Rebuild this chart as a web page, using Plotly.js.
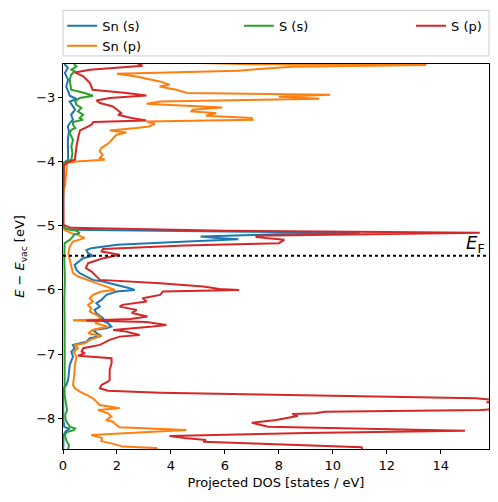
<!DOCTYPE html>
<html>
<head>
<meta charset="utf-8">
<script src="https://cdn.plot.ly/plotly-3.0.1.min.js"></script>
<style>html,body{margin:0;padding:0;background:#fff;}#chart{width:498px;height:502px;}</style>
</head>
<body>
<div id="chart"></div>
<script>
// ---- data (energy in eV relative to vacuum, projected DOS in states/eV) ----
const seriesNames = ["Sn (s)", "Sn (p)", "S (s)", "S (p)"];
const seriesColors = ["#1f77b4", "#ff7f0e", "#2ca02c", "#d62728"];
const fermiLevel = -5.47;
const fermiLabel = "<i>E</i><sub>F</sub>";
const xTicks = [0, 2, 4, 6, 8, 10, 12, 14];
const yTicks = [-8, -7, -6, -5, -4, -3];

const snS_E = [-2.466,-2.497,-2.544,-2.626,-2.731,-2.835,-2.913,-2.980,-3.031,-3.069,-3.146,-3.198,-3.276,-3.354,-3.405,-3.458,-3.536,-3.665,-3.977,-4.023,-4.5,-4.989,-5.036,-5.067,-5.093,-5.114,-5.135,-5.171,-5.19,-5.215,-5.26,-5.30,-5.352,-5.380,-5.430,-5.472,-5.508,-5.561,-5.612,-5.690,-5.741,-5.794,-5.846,-5.872,-5.924,-5.975,-6.002,-6.028,-6.079,-6.157,-6.209,-6.262,-6.313,-6.365,-6.442,-6.469,-6.520,-6.573,-6.600,-6.625,-6.676,-6.718,-6.754,-6.807,-6.858,-6.910,-6.963,-7.040,-7.170,-7.403,-7.481,-7.533,-7.715,-8.03,-8.135,-8.165,-8.20,-8.26,-8.50];
const snS_dos = [0.10,0.07,0.18,0.07,0.19,0.12,0.19,0.25,0.50,0.25,0.37,0.45,0.30,0.37,0.25,0.18,0.22,0.18,0.19,0.03,0.01,0.0,0.05,0.3,6.0,11.0,8.0,5.1,5.6,6.5,4.0,2.0,1.05,0.87,0.93,1.11,0.74,0.56,0.43,0.50,0.62,0.87,1.11,1.48,2.04,2.47,2.66,1.98,1.61,1.42,1.24,1.36,1.17,1.24,1.48,1.36,1.67,1.79,1.6,1.11,1.25,1.42,0.99,0.87,0.37,0.43,0.31,0.37,0.25,0.19,0.12,0.03,0.01,0.01,0.05,0.25,0.10,0.02,0.01];

const snP_E = [-2.47,-2.49,-2.500,-2.53,-2.56,-2.59,-2.637,-2.679,-2.757,-2.808,-2.835,-2.886,-2.938,-2.964,-2.995,-3.026,-3.069,-3.104,-3.120,-3.162,-3.198,-3.224,-3.249,-3.291,-3.327,-3.354,-3.380,-3.416,-3.458,-3.483,-3.520,-3.551,-3.587,-3.665,-3.717,-3.794,-3.847,-3.899,-3.950,-3.977,-4.003,-4.028,-4.21,-4.366,-4.444,-4.6,-5.0,-5.067,-5.118,-5.145,-5.196,-5.249,-5.327,-5.430,-5.534,-5.639,-5.741,-5.794,-5.846,-5.897,-5.950,-6.002,-6.028,-6.079,-6.131,-6.184,-6.235,-6.287,-6.339,-6.391,-6.442,-6.461,-6.474,-6.492,-6.520,-6.573,-6.625,-6.676,-6.718,-6.780,-6.832,-6.858,-6.910,-6.968,-7.040,-7.170,-7.325,-7.481,-7.533,-7.586,-7.637,-7.688,-7.741,-7.793,-7.844,-7.871,-7.922,-7.975,-8.027,-8.053,-8.105,-8.141,-8.184,-8.235,-8.262,-8.308,-8.355,-8.402,-8.441,-8.464,-8.49];
const snP_dos = [5.0,7.0,13.47,8.5,7.4,6.5,2.0,2.72,3.58,3.95,3.58,4.2,4.6,9.9,8.0,9.5,3.6,3.1,3.8,5.9,4.8,4.76,5.68,5.3,7.0,7.03,3.1,3.4,3.2,2.72,1.73,2.35,1.98,1.79,1.70,1.42,1.36,1.47,1.36,1.55,0.5,0.15,0.12,0.08,0.02,0.0,0.0,0.05,0.3,0.55,0.80,0.37,0.25,0.20,0.25,0.31,0.37,0.56,0.87,1.24,1.61,1.92,1.42,1.11,0.99,1.11,0.93,1.05,0.99,1.24,1.42,1.3,0.37,1.3,1.2,1.67,1.10,0.93,1.42,1.0,0.8,0.45,0.55,0.40,0.50,0.44,0.42,0.37,0.44,0.62,0.87,1.11,1.24,1.36,2.10,1.30,1.67,1.79,1.6,1.85,1.98,2.1,4.57,2.5,1.05,1.45,1.42,1.9,2.2,3.46,3.5];

const sS_E = [-2.466,-2.497,-2.523,-2.575,-2.601,-2.653,-2.731,-2.808,-2.886,-2.938,-2.980,-3.016,-3.069,-3.120,-3.171,-3.224,-3.276,-3.327,-3.354,-3.389,-3.431,-3.483,-3.509,-3.561,-3.665,-3.769,-3.872,-3.977,-4.019,-4.1,-5.0,-5.051,-5.083,-5.118,-5.145,-5.171,-5.223,-5.274,-5.534,-5.846,-6.157,-6.469,-6.93,-7.40,-7.637,-7.793,-7.871,-7.95,-8.03,-8.131,-8.159,-8.184,-8.215,-8.26,-8.34,-8.417,-8.50];
const sS_dos = [0.40,0.43,0.50,0.31,0.43,0.30,0.25,0.28,0.30,0.80,1.11,0.62,0.45,0.50,0.68,0.55,0.74,0.62,0.74,0.37,0.37,0.45,0.31,0.25,0.37,0.31,0.35,0.31,0.05,0.01,0.0,0.1,0.5,0.62,0.40,0.37,0.25,0.06,0.05,0.07,0.05,0.06,0.05,0.04,0.06,0.12,0.15,0.08,0.1,0.25,0.45,0.40,0.15,0.07,0.12,0.22,0.18];

const sP_E = [-2.45,-2.466,-2.512,-2.575,-2.617,-2.679,-2.782,-2.886,-2.938,-2.975,-3.016,-3.053,-3.093,-3.146,-3.249,-3.276,-3.327,-3.364,-3.389,-3.431,-3.483,-3.520,-3.614,-3.769,-3.977,-4.019,-4.070,-4.5,-4.989,-5.036,-5.083,-5.105,-5.114,-5.13,-5.16,-5.181,-5.223,-5.274,-5.31,-5.365,-5.405,-5.456,-5.508,-5.586,-5.664,-5.717,-5.768,-5.846,-5.897,-5.950,-5.986,-6.002,-6.028,-6.079,-6.131,-6.184,-6.235,-6.262,-6.313,-6.360,-6.417,-6.453,-6.477,-6.500,-6.547,-6.573,-6.625,-6.651,-6.703,-6.729,-6.780,-6.858,-6.910,-6.963,-6.988,-7.025,-7.065,-7.143,-7.248,-7.403,-7.430,-7.481,-7.533,-7.570,-7.601,-7.637,-7.688,-7.70,-7.72,-7.75,-7.78,-7.82,-7.85,-7.871,-7.897,-7.922,-7.933,-7.964,-8.027,-8.069,-8.131,-8.193,-8.229,-8.276,-8.307,-8.338,-8.364,-8.452,-8.50];
const sP_dos = [2.5,2.7,2.95,1.0,0.44,0.75,1.0,1.1,2.35,3.09,1.73,1.24,1.37,1.85,2.16,2.04,2.53,3.09,1.12,1.06,0.81,0.63,0.57,0.50,0.44,0.14,0.03,0.01,0.02,0.3,6.0,12.0,15.45,12.0,7.17,7.17,8.2,8.0,4.5,1.48,1.43,2.1,1.5,0.93,0.85,1.06,1.18,1.37,3.6,5.2,5.8,6.53,3.7,3.6,2.95,3.1,2.2,2.1,2.73,2.55,3.13,2.5,0.87,3.1,3.83,3.33,1.86,2.35,2.84,2.10,1.73,1.37,0.75,0.69,0.81,0.56,1.80,1.80,1.73,1.73,1.66,1.43,1.37,1.66,3.6,9.0,15.3,15.6,16.2,15.7,16.4,15.9,16.2,15.5,9.7,9.36,8.5,8.7,7.9,7.0,7.6,14.9,9.0,3.95,4.5,5.3,5.2,11.07,11.1];

const energies = [snS_E, snP_E, sS_E, sP_E];
const dosValues = [snS_dos, snP_dos, sS_dos, sP_dos];
// legend column of each series (matplotlib 3-column legend: Sn(s)/Sn(p) | S(s) | S(p))
const legendColumn = ["legend", "legend", "legend2", "legend3"];

const font = "DejaVu Sans, sans-serif";
const traces = seriesNames.map((name, i) => ({
  type: "scatter", mode: "lines", name: name,
  x: dosValues[i], y: energies[i],
  line: {color: seriesColors[i], width: 2},
  legend: legendColumn[i],
  hoverinfo: "skip"
}));

function legendAt(xPos) {
  return {
    orientation: "v", x: xPos, xanchor: "left", y: 1.138, yanchor: "top",
    bgcolor: "rgba(0,0,0,0)", borderwidth: 0, traceorder: "normal",
    font: {family: font, size: 13, color: "#000"}
  };
}

const layout = {
  width: 498, height: 502,
  margin: {l: 63, r: 9, t: 64, b: 53, pad: 0},
  paper_bgcolor: "#fff", plot_bgcolor: "#fff",
  font: {family: font, size: 13, color: "#000"},
  showlegend: true,
  legend: legendAt(-0.002),
  legend2: legendAt(0.413),
  legend3: legendAt(0.817),
  xaxis: {
    range: [0, 15.79], tickvals: xTicks, ticktext: xTicks.map(String),
    ticks: "outside", ticklen: 4, tickwidth: 1, tickcolor: "#000",
    showline: true, mirror: true, linecolor: "#000", linewidth: 1,
    showgrid: false, zeroline: false,
    tickfont: {family: font, size: 13, color: "#000"},
    title: {text: "Projected DOS [states / eV]", font: {family: font, size: 13, color: "#000"}, standoff: 6}
  },
  yaxis: {
    range: [-8.478, -2.486], tickvals: yTicks,
    ticks: "outside", ticklen: 4, tickwidth: 1, tickcolor: "#000",
    showline: true, mirror: true, linecolor: "#000", linewidth: 1,
    showgrid: false, zeroline: false,
    tickfont: {family: font, size: 13, color: "#000"},
    title: {text: "<i>E</i> − <i>E</i><sub>vac</sub> [eV]", font: {family: font, size: 13, color: "#000"}, standoff: 8}
  },
  shapes: [
    {type: "rect", xref: "paper", yref: "paper", x0: 0, x1: 1, y0: 1.021, y1: 1.1395,
     line: {color: "#cccccc", width: 1}, fillcolor: "rgba(255,255,255,0.8)", layer: "below"},
    {type: "line", xref: "paper", x0: 0, x1: 1, yref: "y", y0: fermiLevel, y1: fermiLevel,
     line: {color: "#000", width: 2, dash: "dot"}}
  ],
  annotations: [{
    xref: "paper", x: 0.995, xanchor: "right", yref: "y", y: fermiLevel, yanchor: "bottom",
    text: fermiLabel, showarrow: false, font: {family: font, size: 18, color: "#000"}, yshift: -2
  }]
};

Plotly.newPlot("chart", traces, layout, {staticPlot: true, displayModeBar: false});
</script>
</body>
</html>
